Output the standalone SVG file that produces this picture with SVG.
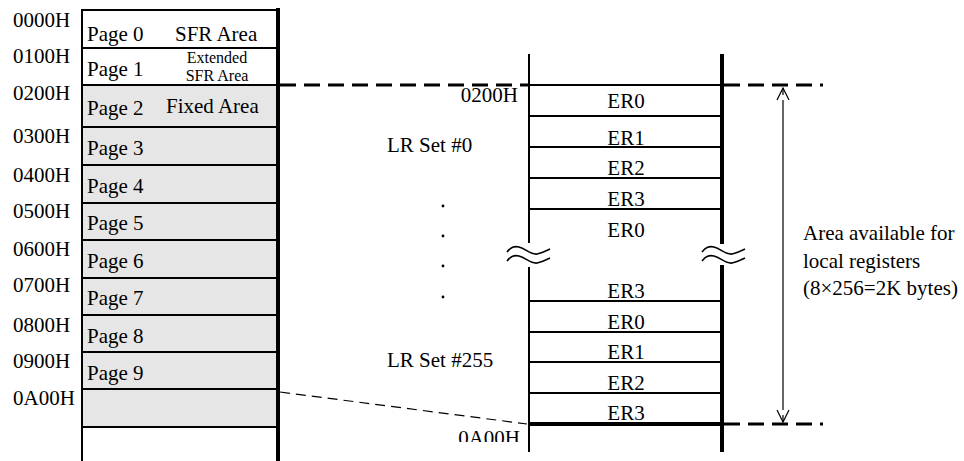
<svg xmlns="http://www.w3.org/2000/svg" width="964" height="461" viewBox="0 0 964 461">
<style>
text{font-family:"Liberation Serif","Times New Roman",serif;font-size:21px;fill:#000}
.sm{font-size:16px}
.mid{text-anchor:middle}
.row{stroke:#000;stroke-width:2}
.shade{fill:#e6e6e6;stroke:none}
.thin{stroke:#000;stroke-width:2;fill:none}
.thick{stroke:#000;stroke-width:4;fill:none}
.dash{stroke:#000;stroke-width:3;stroke-dasharray:16 8;fill:none}
.dash2{stroke:#000;stroke-width:1.2;stroke-dasharray:10 6;fill:none}
.wave{stroke:#000;stroke-width:1.6;fill:none}
.dot{fill:#000}
</style>
<defs>
<marker id="ah" viewBox="0 0 14 14" refX="13" refY="7" markerWidth="14" markerHeight="14" markerUnits="userSpaceOnUse" orient="auto-start-reverse">
<path d="M1,1 L13,7 L1,13" fill="none" stroke="#000" stroke-width="1.2"/>
</marker>
<clipPath id="clipBottom"><rect x="0" y="0" width="964" height="442"/></clipPath>
</defs>
<rect width="964" height="461" fill="#fff"/>

<g id="memory-map">
<rect class="shade" x="82" y="85" width="196" height="342"/>
<g id="addresses">
<text x="13" y="27">0000H</text>
<text x="13" y="63">0100H</text>
<text x="13" y="100">0200H</text>
<text x="13" y="143">0300H</text>
<text x="13" y="182">0400H</text>
<text x="13" y="218">0500H</text>
<text x="13" y="256">0600H</text>
<text x="13" y="292">0700H</text>
<text x="13" y="332">0800H</text>
<text x="13" y="368">0900H</text>
<text x="13" y="405">0A00H</text>
</g>
<g id="page0"><line class="row" x1="82" y1="10" x2="280" y2="10"/><text x="87" y="41">Page 0</text><text x="175" y="41">SFR Area</text></g>
<g id="page1"><line class="row" x1="82" y1="48" x2="278" y2="48"/><text x="87" y="76">Page 1</text><text class="sm" x="217" y="63" text-anchor="middle">Extended</text><text class="sm" x="217" y="81" text-anchor="middle">SFR Area</text></g>
<g id="page2"><line class="row" x1="82" y1="85" x2="278" y2="85"/><text x="87" y="115">Page 2</text><text x="166" y="113">Fixed Area</text></g>
<g id="page3"><line class="row" x1="82" y1="127" x2="278" y2="127"/><text x="87" y="155">Page 3</text></g>
<g id="page4"><line class="row" x1="82" y1="165" x2="278" y2="165"/><text x="87" y="193">Page 4</text></g>
<g id="page5"><line class="row" x1="82" y1="203" x2="278" y2="203"/><text x="87" y="230">Page 5</text></g>
<g id="page6"><line class="row" x1="82" y1="240" x2="278" y2="240"/><text x="87" y="268">Page 6</text></g>
<g id="page7"><line class="row" x1="82" y1="278" x2="278" y2="278"/><text x="87" y="305">Page 7</text></g>
<g id="page8"><line class="row" x1="82" y1="315" x2="278" y2="315"/><text x="87" y="343">Page 8</text></g>
<g id="page9"><line class="row" x1="82" y1="352" x2="278" y2="352"/><text x="87" y="380">Page 9</text></g>
<g id="page10"><line class="row" x1="82" y1="389" x2="278" y2="389"/><line class="row" x1="82" y1="427" x2="278" y2="427"/></g>
<line class="thin" x1="82" y1="9" x2="82" y2="461"/>
<line class="thick" x1="278" y1="8" x2="278" y2="461"/>
</g>

<g id="lr-area">
<line class="thin" x1="529" y1="54" x2="529" y2="243"/>
<line class="thin" x1="529" y1="267" x2="529" y2="452"/>
<line class="thick" x1="722" y1="54" x2="722" y2="244"/>
<line class="thick" x1="722" y1="265" x2="722" y2="452"/>
<path class="wave" d="M507,252 C511,247 514,246 519,247 C526,249 531,255 537,254 C542,253 546,251 550,249"/>
<path class="wave" d="M507,261 C511,256 514,255 519,256 C526,258 531,264 537,263 C542,262 546,260 550,258"/>
<path class="wave" d="M702,252 C706,247 709,246 714,247 C721,249 726,255 732,254 C737,253 741,251 745,249"/>
<path class="wave" d="M702,261 C706,256 709,255 714,256 C721,258 726,264 732,263 C737,262 741,260 745,258"/>
<g id="set0">
<line class="row" x1="529" y1="85" x2="722" y2="85" stroke-width="2.5"/>
<line class="row" x1="529" y1="116" x2="722" y2="116"/>
<line class="row" x1="529" y1="147" x2="722" y2="147"/>
<line class="row" x1="529" y1="178" x2="722" y2="178"/>
<line class="row" x1="529" y1="209" x2="722" y2="209"/>
<text class="mid" x="626" y="108">ER0</text>
<text class="mid" x="626" y="145">ER1</text>
<text class="mid" x="626" y="175">ER2</text>
<text class="mid" x="626" y="206">ER3</text>
<text class="mid" x="626" y="237">ER0</text>
<text x="387" y="152">LR Set #0</text>
<text x="518" y="102" text-anchor="end">0200H</text>
</g>
<g id="dots">
<circle class="dot" cx="443" cy="206" r="1.4"/>
<circle class="dot" cx="443" cy="236" r="1.4"/>
<circle class="dot" cx="443" cy="266" r="1.4"/>
<circle class="dot" cx="443" cy="297" r="1.4"/>
</g>
<g id="set255">
<line class="row" x1="529" y1="301" x2="722" y2="301"/>
<line class="row" x1="529" y1="332" x2="722" y2="332"/>
<line class="row" x1="529" y1="362" x2="722" y2="362"/>
<line class="row" x1="529" y1="393" x2="722" y2="393"/>
<line class="thick" x1="529" y1="424" x2="722" y2="424"/>
<text class="mid" x="626" y="298">ER3</text>
<text class="mid" x="626" y="329">ER0</text>
<text class="mid" x="626" y="359">ER1</text>
<text class="mid" x="626" y="390">ER2</text>
<text class="mid" x="626" y="420">ER3</text>
<text x="387" y="367">LR Set #255</text>
<text x="520" y="445" text-anchor="end" clip-path="url(#clipBottom)">0A00H</text>
</g>
</g>

<g id="note">
<text x="803" y="240">Area available for</text>
<text x="803" y="268">local registers</text>
<text x="803" y="295">(8×256=2K bytes)</text>
</g>

<g id="connectors">
<line class="dash" x1="280" y1="85" x2="528" y2="85"/>
<line class="dash" x1="724" y1="85" x2="823" y2="85"/>
<line class="dash" x1="724" y1="424" x2="823" y2="424"/>
<line class="dash2" x1="280" y1="392" x2="527" y2="424"/>
<line x1="783" y1="100" x2="783" y2="410" stroke="#000" stroke-width="1.2"/>
<line x1="783" y1="95" x2="783" y2="88" stroke="#000" stroke-width="1.2" marker-end="url(#ah)"/>
<line x1="783" y1="415" x2="783" y2="422" stroke="#000" stroke-width="1.2" marker-end="url(#ah)"/>
</g>
</svg>
